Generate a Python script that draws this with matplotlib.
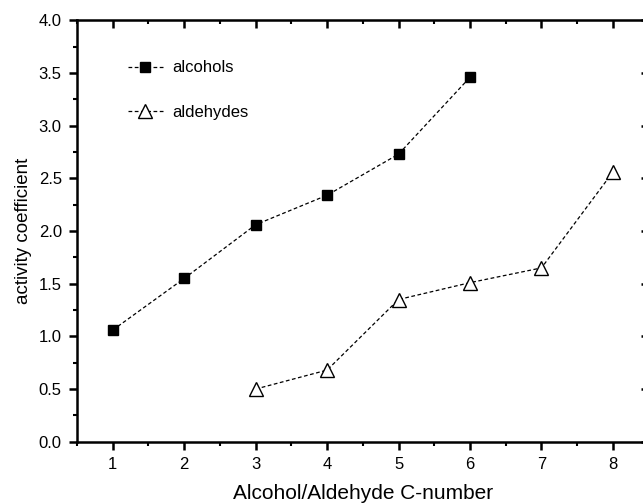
import matplotlib.pyplot as plt
from matplotlib.ticker import MultipleLocator

plt.rcParams["font.family"] = ["Liberation Sans", "DejaVu Sans"]

# activity coefficients vs carbon number
alc_c = [1, 2, 3, 4, 5, 6]
alc_gamma = [1.06, 1.55, 2.06, 2.34, 2.73, 3.46]
ald_c = [3, 4, 5, 6, 7, 8]
ald_gamma = [0.50, 0.68, 1.35, 1.51, 1.65, 2.56]

fig = plt.figure(figsize=(6.43, 5.04), dpi=100)
ax = fig.add_axes([0.1198, 0.1236, 0.889, 0.836])

ax.plot(alc_c, alc_gamma, ls="--", lw=0.9, color="black", dashes=(3, 2),
        marker="s", ms=6.5, mfc="black", mec="black", label="alcohols")
ax.plot(ald_c, ald_gamma, ls="--", lw=0.9, color="black", dashes=(3, 2),
        marker="^", ms=10, mfc="white", mec="black", mew=1.0, label="aldehydes")

ax.set_xlim(0.5, 8.5)
ax.set_ylim(0, 4.0)
ax.xaxis.set_major_locator(MultipleLocator(1))
ax.xaxis.set_minor_locator(MultipleLocator(0.5))
ax.yaxis.set_major_locator(MultipleLocator(0.5))
ax.yaxis.set_minor_locator(MultipleLocator(0.25))
ax.yaxis.set_major_formatter(plt.FormatStrFormatter("%.1f"))

ax.tick_params(which="major", direction="out", length=6, width=1.8, labelsize=12, pad=5)
ax.tick_params(which="minor", direction="out", length=3, width=1.5)
for sp in ax.spines.values():
    sp.set_linewidth(1.8)

# inward ticks on the top and right edges
top = ax.secondary_xaxis("top")
top.xaxis.set_major_locator(MultipleLocator(1))
top.xaxis.set_minor_locator(MultipleLocator(0.5))
top.tick_params(which="major", direction="in", length=6, width=1.8, labeltop=False)
top.tick_params(which="minor", direction="in", length=3, width=1.5)
right = ax.secondary_yaxis("right")
right.yaxis.set_major_locator(MultipleLocator(0.5))
right.yaxis.set_minor_locator(MultipleLocator(0.25))
right.tick_params(which="major", direction="in", length=6, width=1.8, labelright=False)
right.tick_params(which="minor", direction="in", length=3, width=1.5)

ax.set_xlabel("Alcohol/Aldehyde C-number", fontsize=15, labelpad=9)
ax.set_ylabel("activity coefficient", fontsize=13.5, labelpad=5)

ax.legend(loc="upper left", bbox_to_anchor=(0.089, 0.905), frameon=False,
          borderpad=0, borderaxespad=0,
          fontsize=12, labelspacing=1.75, handlelength=2.1, handletextpad=0.55)

fig.savefig("out.png", dpi=100)
